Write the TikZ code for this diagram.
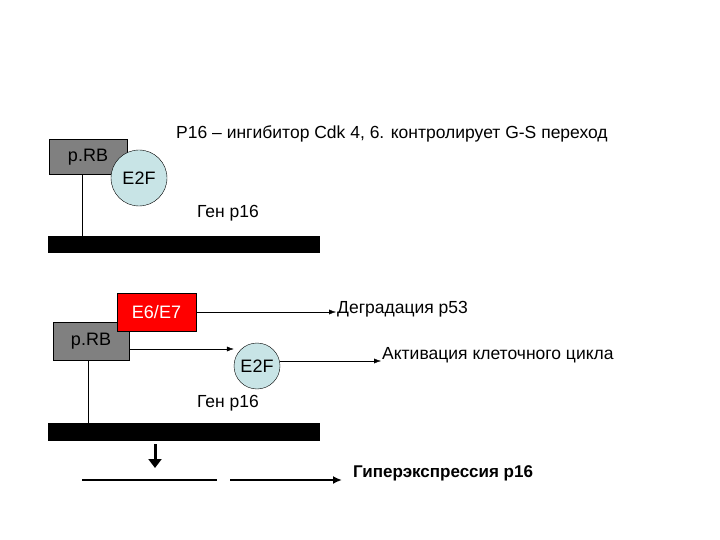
\documentclass[tikz,border=0pt]{standalone}
\usepackage{fontspec}
\setmainfont{Liberation Sans}
\usetikzlibrary{arrows.meta}
\definecolor{grayb}{RGB}{128,128,128}
\definecolor{cyanc}{RGB}{200,228,230}
\begin{document}
\begin{tikzpicture}[x=1pt,y=-1pt,
  rb/.style={draw=black,fill=grayb,minimum width=78pt,minimum height=35pt,inner sep=0pt,font=\fontsize{18}{20}\selectfont},
  circ/.style={draw=black,fill=cyanc,circle,inner sep=0pt,font=\fontsize{18}{20}\selectfont},
  bar/.style={fill=black,draw=none,minimum width=272pt,minimum height=17pt,inner sep=0pt},
  lbl/.style={font=\fontsize{17.5}{20}\selectfont,inner sep=1pt},
  arr/.style={-{Latex[length=7pt,width=5pt]},thin}]
\useasboundingbox (0,0) rectangle (720,540);
% top
\node[rb] (rb1) at (88,157) {p.RB};
\node[circ,minimum size=56pt] (e2f1) at (139,178) {E2F};
\node[lbl,anchor=west] (t1) at (175,134) {Р16 – ингибитор Cdk 4, 6. контролирует G-S переход};
\node[lbl] (g1) at (228,213) {Ген р16};
\node[bar] (bar1) at (184,244.5) {};
\draw (rb1.south -| 82,0) coordinate (a1) -- (a1 |- bar1.north);
% bottom
\node[rb,minimum width=76pt,minimum height=38pt] (rb2) at (91,341) {p.RB};
\node[draw=black,fill=red,minimum width=79pt,minimum height=38pt,inner sep=0pt,font=\fontsize{18}{20}\selectfont,text=white] (e6) at (156.5,312) {E6/E7};
\node[circ,minimum size=46pt] (e2f2) at (257,366) {E2F};
\node[lbl,anchor=west] (deg) at (336,309) {Деградация р53};
\node[lbl,anchor=west] (act) at (381,355) {Активация клеточного цикла};
\node[lbl] (g2) at (228,403) {Ген р16};
\node[bar,minimum height=18pt] (bar2) at (184,432) {};
\draw[arr] (e6.east) -- (e6.east -| deg.west);
\draw[arr] (rb2.east |- 0,349) -- (e2f2.west |- 0,349);
\draw[arr] (e2f2.east |- 0,361) -- (act.west |- 0,361);
\draw (88,360) coordinate (a2) -- (a2 |- bar2.north);
\coordinate (d1) at (155,444); \coordinate (d2) at (155,468);
\draw[line width=3pt,-{Triangle[length=9pt,width=13pt]}] (d1) -- (d2);
\coordinate (l1) at (82,480); \coordinate (l2) at (217,480); \coordinate (l3) at (230,480);
\node[lbl,anchor=west,font=\bfseries\fontsize{17}{20}\selectfont] (hyp) at (352,473) {Гиперэкспрессия р16};
\draw[line width=2.5pt] (l1) -- (l2);
\draw[line width=2.5pt,-{Latex[length=9pt,width=8pt]}] (l3) -- (342,480) coordinate (l4);
\end{tikzpicture}
\end{document}
